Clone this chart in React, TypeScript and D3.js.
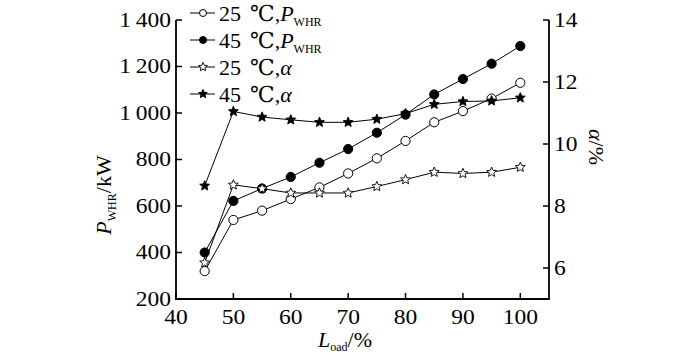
import React from "react";
import * as d3 from "d3";

const loads = [45, 50, 55, 60, 65, 70, 75, 80, 85, 90, 95, 100];
const p25 = [320, 540, 580, 630, 680, 740, 805, 880, 960, 1008, 1062, 1130];
const p45 = [400, 622, 675, 725, 786, 845, 915, 993, 1080, 1146, 1212, 1288];
const a25 = [6.17, 8.68, 8.56, 8.42, 8.42, 8.42, 8.63, 8.85, 9.09, 9.05, 9.09, 9.25];
const a45 = [8.65, 11.05, 10.87, 10.78, 10.7, 10.7, 10.8, 10.98, 11.28, 11.37, 11.39, 11.49];
const xTicks = [40, 50, 60, 70, 80, 90, 100];
const yLeftTicks = [200, 400, 600, 800, 1000, 1200, 1400];
const yRightTicks = [6, 8, 10, 12, 14];

const FONT = "Liberation Serif, DejaVu Serif, serif";

function starPath(cx: number, cy: number, R: number) {
  const r = R * 0.45;
  const pts: string[] = [];
  for (let i = 0; i < 10; i++) {
    const ang = -Math.PI / 2 + (i * Math.PI) / 5;
    const rad = i % 2 === 0 ? R : r;
    pts.push(`${cx + rad * Math.cos(ang)},${cy + rad * Math.sin(ang)}`);
  }
  return "M" + pts.join("L") + "Z";
}

function fmt(v: number) {
  return v >= 1000 ? `${Math.floor(v / 1000)}\u2009${String(v % 1000).padStart(3, "0")}` : String(v);
}

export default function App() {
  const left = 176, right = 549, top = 20, bottom = 299;
  const x = d3.scaleLinear().domain([40, 105]).range([left, right]);
  const yL = d3.scaleLinear().domain([200, 1400]).range([bottom, top]);
  const yR = d3.scaleLinear().domain([5, 14]).range([bottom, top]);
  const line = (ys: number[], sc: d3.ScaleLinear<number, number>) =>
    d3.line<number>().x((_, i) => x(loads[i])).y((d) => sc(d))(ys) || "";

  const series = [
    { vals: p25, sc: yL, kind: "circle", fill: "#fff" },
    { vals: p45, sc: yL, kind: "circle", fill: "#000" },
    { vals: a25, sc: yR, kind: "star", fill: "#fff" },
    { vals: a45, sc: yR, kind: "star", fill: "#000" },
  ];

  const marker = (kind: string, fill: string, cx: number, cy: number, key: any, small = false) =>
    kind === "circle" ? (
      <circle key={key} cx={cx} cy={cy} r={small ? 3.5 : 4.6} fill={fill} stroke="#000" strokeWidth={1} />
    ) : (
      <path key={key} d={starPath(cx, cy, small ? 4.6 : 5.2)} fill={fill} stroke="#000" strokeWidth={0.9} />
    );

  const legend = [
    { label: "25", sub: true, s: series[0] },
    { label: "45", sub: true, s: series[1] },
    { label: "25", sub: false, s: series[2] },
    { label: "45", sub: false, s: series[3] },
  ];

  const ts = { fontFamily: FONT };
  const SX = 1.12;

  return (
    <svg width={700} height={355} style={{ display: "block", position: "absolute", left: 0, top: 0, fontFamily: FONT }}>
      <rect width={700} height={355} fill="#fff" />
      <path d={`M${left},${top}V${bottom}H${right}V${top}`} fill="none" stroke="#000" strokeWidth={1.8} />
      {yLeftTicks.map((t) => (
        <g key={"l" + t}>
          <line x1={left} x2={left + 6} y1={yL(t)} y2={yL(t)} stroke="#000" strokeWidth={1.5} />
          <text style={ts} transform={`translate(${left - 5},${yL(t)}) scale(${SX},1)`} dy="0.33em" textAnchor="end" fontSize={21}>{fmt(t)}</text>
        </g>
      ))}
      {yRightTicks.map((t) => (
        <g key={"r" + t}>
          <line x1={right - 6} x2={right} y1={yR(t)} y2={yR(t)} stroke="#000" strokeWidth={1.5} />
          <text style={ts} transform={`translate(${right + 5},${yR(t)}) scale(${SX},1)`} dy="0.35em" textAnchor="start" fontSize={21}>{t}</text>
        </g>
      ))}
      {xTicks.map((t) => (
        <g key={"x" + t}>
          <line x1={x(t)} x2={x(t)} y1={bottom} y2={bottom - 6} stroke="#000" strokeWidth={1.5} />
          <text style={ts} transform={`translate(${x(t)},${bottom + 25}) scale(${SX},1)`} textAnchor="middle" fontSize={21}>{t}</text>
        </g>
      ))}
      <text style={ts} transform={`translate(111,195) rotate(-90)`} textAnchor="middle" fontSize={22}>
        <tspan fontStyle="italic">P</tspan>
        <tspan fontSize={12} dy={5}>WHR</tspan>
        <tspan dy={-5}>/kW</tspan>
      </text>
      <text style={ts} transform={`translate(589,147) rotate(90)`} textAnchor="middle" fontSize={22}>
        <tspan fontStyle="italic">α</tspan>
        <tspan>/%</tspan>
      </text>
      <text style={ts} x={345} y={347} textAnchor="middle" fontSize={22}>
        <tspan fontStyle="italic">L</tspan>
        <tspan fontSize={12} dy={4}>oad</tspan>
        <tspan dy={-4}>/%</tspan>
      </text>
      {series.map((s, si) => (
        <g key={"s" + si}>
          <path d={line(s.vals, s.sc)} fill="none" stroke="#000" strokeWidth={1} />
          {s.vals.map((v, i) => marker(s.kind, s.fill, x(loads[i]), s.sc(v), i))}
        </g>
      ))}
      {legend.map((l, i) => {
        const cy = 13 + i * 27;
        return (
          <g key={"lg" + i}>
            <line x1={190} x2={215} y1={cy} y2={cy} stroke="#000" strokeWidth={1} />
            {marker(l.s.kind, l.s.fill, 203, cy, "m", true)}
            <text style={ts} x={219} y={cy} dy="0.35em" fontSize={22}>
              <tspan>{l.label}</tspan>
              <tspan dx={9}>{"\u2103"}</tspan>
              <tspan>,</tspan>
              {l.sub ? (
                <>
                  <tspan fontStyle="italic">P</tspan>
                  <tspan fontSize={12} dy={5}>WHR</tspan>
                </>
              ) : (
                <tspan fontStyle="italic">α</tspan>
              )}
            </text>
          </g>
        );
      })}
    </svg>
  );
}
